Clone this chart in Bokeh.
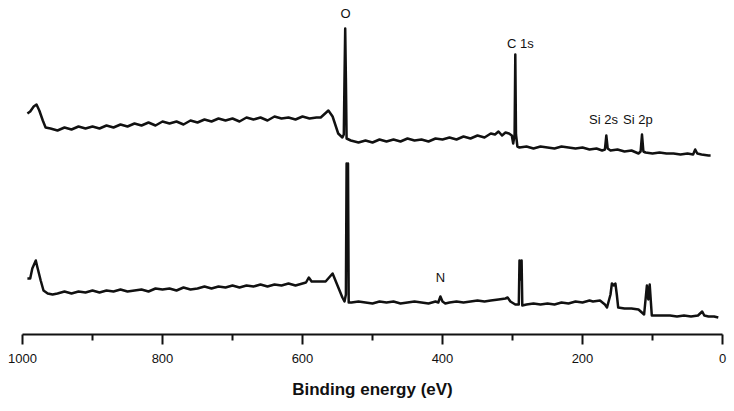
from bokeh.plotting import figure
from bokeh.models import Range1d, FixedTicker, ColumnDataSource, LabelSet
from bokeh.core.properties import value
from bokeh.embed import file_html
from bokeh.resources import INLINE

# ---- top spectrum (binding energy eV, intensity a.u.) ----
be_top = [993, 989, 984, 980, 976, 971, 967, 960, 950, 940, 930, 920, 910, 900, 890, 880,
          870, 860, 850, 840, 830, 820, 810, 800, 790, 780, 770, 760, 750, 740, 730, 720,
          710, 700, 690, 680, 670, 660, 650, 640, 630, 620, 610, 600, 590, 580, 574, 563,
          557, 549, 543, 541, 540, 539, 538, 537, 531, 520, 510, 500, 490, 480, 470, 460,
          450, 440, 430, 420, 410, 400, 390, 380, 370, 360, 350, 340, 331, 325, 320, 315,
          310, 305, 301, 299, 297, 296, 295, 293, 290, 280, 270, 260, 250, 240, 230, 220,
          210, 200, 190, 180, 172, 168, 166, 164, 160, 150, 140, 130, 120, 117, 115, 113,
          110, 100, 90, 80, 70, 60, 50, 42, 39, 36, 30, 20, 17]
int_top = [221, 223, 228, 230, 224, 214, 207, 206, 204, 207, 205, 208, 206, 208, 206, 209,
           207, 210, 208, 211, 209, 212, 209, 213, 211, 213, 210, 214, 212, 215, 213, 216,
           214, 216, 213, 217, 215, 217, 214, 218, 216, 217, 215, 218, 216, 217, 217, 224,
           218, 201, 197, 200, 256, 306, 256, 196, 194, 192, 194, 192, 195, 193, 195, 193,
           196, 194, 195, 193, 196, 195, 197, 195, 198, 196, 199, 197, 201, 200, 203, 199,
           202, 201, 199, 191, 200, 280, 200, 188, 187, 188, 186, 188, 187, 186, 188, 187,
           186, 187, 185, 186, 184, 185, 199, 186, 184, 185, 183, 184, 181, 183, 200, 183,
           182, 181, 182, 181, 181, 180, 181, 180, 185, 181, 180, 179, 179]

# ---- bottom spectrum ----
be_bot = [993, 989, 986, 981, 979, 974, 970, 964, 957, 950, 940, 930, 920, 910, 900, 890,
          880, 870, 860, 850, 840, 830, 820, 810, 800, 790, 780, 770, 760, 750, 740, 730,
          720, 710, 700, 690, 680, 670, 660, 650, 640, 630, 620, 610, 600, 595, 591, 587,
          579, 567, 557, 550, 543, 540, 538, 537, 536, 535, 534, 530, 520, 510, 500, 490,
          480, 470, 460, 450, 440, 430, 420, 410, 406, 403, 400, 396, 390, 380, 370, 360,
          350, 340, 331, 320, 310, 307, 303, 296, 291, 290, 288.5, 287, 286, 280, 270, 260,
          250, 240, 230, 220, 210, 200, 190, 185, 175, 168, 165, 160, 158, 155, 153, 151,
          149, 140, 130, 120, 112, 108, 106, 104, 101, 95, 85, 75, 65, 55, 45, 35,
          29, 26, 20, 12, 6]
int_bot = [56, 56, 66, 74, 68, 54, 44, 41, 40, 41, 43, 41, 43, 42, 44, 42,
           44, 43, 45, 43, 44, 45, 43, 46, 45, 46, 44, 47, 45, 46, 48, 46,
           48, 47, 49, 47, 49, 48, 50, 48, 50, 49, 51, 49, 51, 52, 57, 53,
           53, 53, 61, 49, 37, 33, 40, 171, 100, 171, 32, 32, 33, 32, 31, 33,
           32, 33, 31, 32, 33, 32, 31, 33, 32, 38, 33, 31, 32, 33, 32, 33,
           34, 33, 34, 35, 36, 37, 33, 30, 30, 74, 55, 74, 29, 30, 31, 30,
           31, 30, 32, 31, 33, 32, 34, 33, 34, 30, 27, 40, 51, 49, 51, 40,
           27, 26, 26, 25, 20, 49, 35, 50, 19, 19, 19, 19, 18, 19, 18, 19,
           23, 19, 18, 18, 17]

# ---- peak labels ----
label_text = ["O", "C 1s", "Si 2s", "Si 2p", "N"]
label_be = [538.6, 288.6, 170, 121, 403]
label_int = [321, 291, 215, 215, 57]

x_ticks = [0, 200, 400, 600, 800, 1000]
x_minor = [100, 300, 500, 700, 900]

FONT = "Liberation Sans"

p = figure(frame_width=700, frame_height=326, output_backend="svg", toolbar_location=None,
           x_range=Range1d(1000, 0), y_range=Range1d(0, 326),
           min_border_left=22, min_border_right=12, min_border_top=8, min_border_bottom=77,
           y_axis_location=None)
p.outline_line_color = None
p.xgrid.visible = False
p.ygrid.visible = False

p.line(be_top, int_top, line_color="#111111", line_width=2.5, line_join="round")
p.line(be_bot, int_bot, line_color="#111111", line_width=2.5, line_join="round")

src = ColumnDataSource(dict(x=label_be, y=label_int, t=label_text))
p.add_layout(LabelSet(x="x", y="y", text="t", source=src, text_align="center",
                      text_baseline="middle", text_font=value(FONT),
                      text_font_size=value("13px"), text_color=value("#111111")))

ax = p.xaxis[0]
ax.ticker = FixedTicker(ticks=x_ticks, minor_ticks=x_minor)
ax.axis_label = "Binding energy (eV)"
ax.axis_label_text_font = FONT
ax.axis_label_text_font_style = "bold"
ax.axis_label_text_font_size = "17px"
ax.axis_label_text_color = "#111111"
ax.axis_label_standoff = 14
ax.major_label_text_font = FONT
ax.major_label_text_font_size = "13px"
ax.major_label_text_color = "#111111"
ax.major_label_standoff = 9
ax.axis_line_width = 2
ax.axis_line_color = "#111111"
ax.major_tick_line_width = 2
ax.major_tick_line_color = "#111111"
ax.minor_tick_line_width = 2
ax.minor_tick_line_color = "#111111"
ax.major_tick_out = 10
ax.major_tick_in = 0
ax.minor_tick_out = 6
ax.minor_tick_in = 0

open("out.html", "w").write(file_html(p, INLINE))
